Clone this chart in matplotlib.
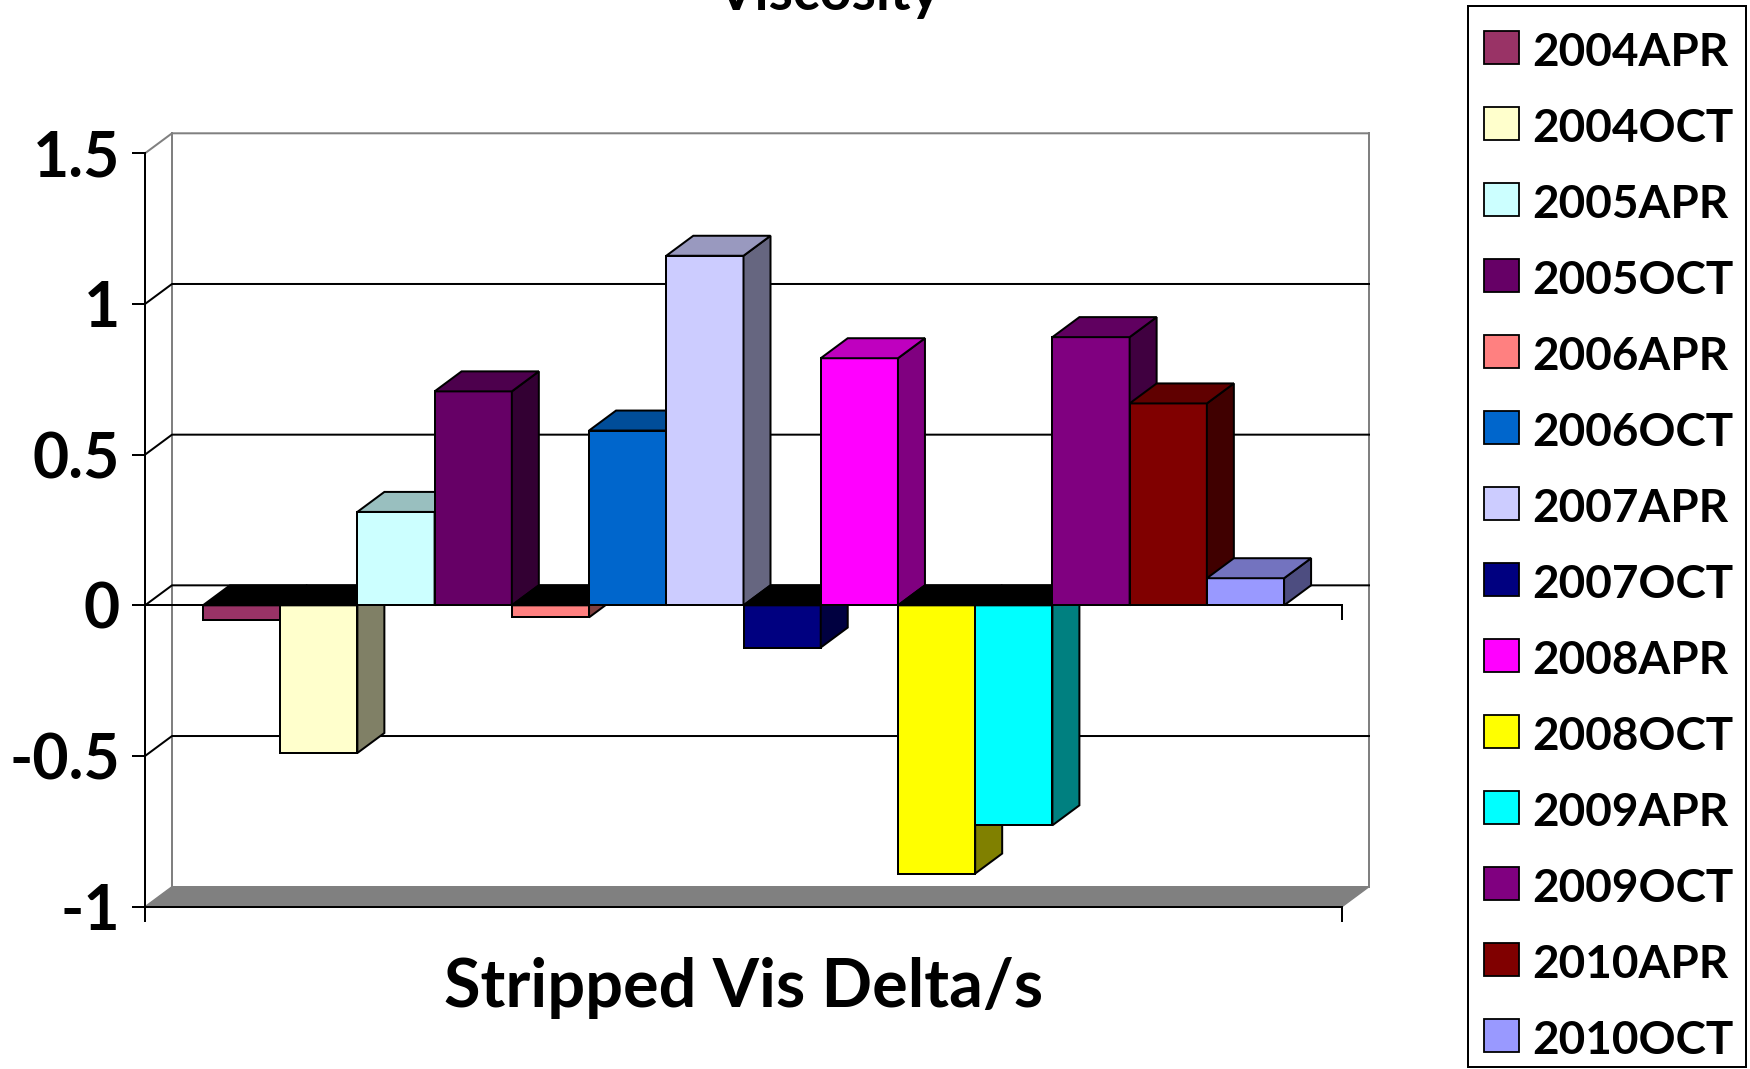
import matplotlib.pyplot as plt
from matplotlib.patches import Polygon, Rectangle
from matplotlib.colors import to_rgb

seasons = ['2004APR', '2004OCT', '2005APR', '2005OCT', '2006APR', '2006OCT', '2007APR',
           '2007OCT', '2008APR', '2008OCT', '2009APR', '2009OCT', '2010APR', '2010OCT']
vis_delta = [-0.05, -0.49, 0.31, 0.71, -0.04, 0.58, 1.16,
             -0.14, 0.82, -0.89, -0.73, 0.89, 0.67, 0.09]
bar_colors = ['#993366', '#FFFFCC', '#CCFFFF', '#660066', '#FF8080', '#0066CC', '#CCCCFF',
              '#000080', '#FF00FF', '#FFFF00', '#00FFFF', '#800080', '#800000', '#9999FF']
y_ticks = [-1, -0.5, 0, 0.5, 1, 1.5]
y_tick_labels = ['-1', '-0.5', '0', '0.5', '1', '1.5']

W, H, DPI = 1750, 1069, 100
plt.rcParams['font.family'] = ['Lato', 'DejaVu Sans']
plt.rcParams['font.weight'] = 'bold'

fig = plt.figure(figsize=(W / DPI, H / DPI), dpi=DPI)

# front face of the plot box, pixels from the top-left corner
x0_px, x1_px = 145, 1342
ytop_px, ybot_px = 153.3, 906.7
ax = fig.add_axes([x0_px / W, 1 - ybot_px / H, (x1_px - x0_px) / W, (ybot_px - ytop_px) / H])
ax.patch.set_visible(False)

n = len(seasons)
gap = 1.5
xmax = n + gap
ymin, ymax = y_ticks[0], y_ticks[-1]
ax.set_xlim(0, xmax)
ax.set_ylim(ymin, ymax)

# depth offset of the fake 3d box, converted to data units
px_x = (x1_px - x0_px) / xmax
px_y = (ybot_px - ytop_px) / (ymax - ymin)
dx = 27 / px_x
dy = 20 / px_y
tick_down = 14 / px_y

lw = 1.44
gray = '#808080'


def line(xs, ys, color='black', z=2):
    ax.plot(xs, ys, color=color, lw=lw, clip_on=False, zorder=z, solid_capstyle='projecting')


# floor at the bottom of the value axis
floor = Polygon([(0, ymin), (xmax, ymin), (xmax + dx, ymin + dy), (dx, ymin + dy)],
                closed=True, facecolor=gray, edgecolor=gray, lw=1, clip_on=False, zorder=1)
ax.add_patch(floor)
line([0, xmax], [ymin, ymin])
line([xmax, xmax], [ymin, ymin - tick_down])

# back wall edges and gridlines with their side-wall diagonals
line([dx, dx], [ymin + dy, ymax + dy], gray, 1)
line([xmax + dx, xmax + dx], [ymin + dy, ymax + dy], gray, 1)
for v in y_ticks[1:]:
    c = gray if v == ymax else 'black'
    line([0, dx, xmax + dx], [v, v + dy, v + dy], c, 1)

# category axis at zero
line([0, xmax], [0, 0])
line([xmax, xmax], [0, -tick_down])


def shade(c, k):
    r, g, b = to_rgb(c)
    return (r * k, g * k, b * k)


bars = ax.bar([gap / 2 + i for i in range(n)], vis_delta, width=1, align='edge',
              color=bar_colors, edgecolor='black', linewidth=lw, clip_on=False)

for i, (rect, c) in enumerate(zip(bars, bar_colors)):
    z = 10 + i
    rect.set_zorder(z)
    xl = rect.get_x()
    xr = xl + rect.get_width()
    yb = min(rect.get_y(), rect.get_y() + rect.get_height())
    yt = max(rect.get_y(), rect.get_y() + rect.get_height())
    top_color = shade(c, 0.75) if rect.get_height() > 0 else 'black'
    top = Polygon([(xl, yt), (xr, yt), (xr + dx, yt + dy), (xl + dx, yt + dy)], closed=True,
                  facecolor=top_color, edgecolor='black', lw=lw, clip_on=False, zorder=z,
                  joinstyle='miter')
    side = Polygon([(xr, yb), (xr + dx, yb + dy), (xr + dx, yt + dy), (xr, yt)], closed=True,
                   facecolor=shade(c, 0.5), edgecolor='black', lw=lw, clip_on=False, zorder=z,
                   joinstyle='miter')
    ax.add_patch(side)
    ax.add_patch(top)

# value axis
for s in ['top', 'right', 'bottom']:
    ax.spines[s].set_visible(False)
ax.spines['left'].set_linewidth(lw)
ax.spines['left'].set_bounds(ymin - tick_down, ymax)
ax.spines['left'].set_zorder(3)
ax.set_xticks([])
ax.set_yticks(y_ticks)
ax.set_yticklabels(y_tick_labels)
ax.tick_params(axis='y', direction='out', length=9.4, width=lw, pad=8.6, labelsize=45)

ax.set_xlabel('Stripped Vis Delta/s', fontsize=48, fontweight='bold')
ax.xaxis.label.set_va('baseline')
ax.xaxis.set_label_coords(0.5, ((H - 1007) - (H - ybot_px)) / (ybot_px - ytop_px))

fig.text(828 / W, 1 - 10 / H, 'Viscosity', ha='center', va='baseline', fontsize=40,
         fontweight='bold')

# legend box on the right
fig.add_artist(Rectangle((1468 / W, 1 - 1067 / H), (1746 - 1468) / W, (1067 - 6) / H,
                         transform=fig.transFigure, fill=False, edgecolor='black', lw=lw))
for i, (name, c) in enumerate(zip(seasons, bar_colors)):
    cy = 47.5 + 76.0 * i
    fig.add_artist(Rectangle((1484 / W, 1 - (cy + 16.5) / H), 35 / W, 33 / H,
                             transform=fig.transFigure, facecolor=c, edgecolor='black',
                             lw=1.3))
    fig.text(1532 / W, 1 - (cy + 18) / H, name, ha='left', va='baseline', fontsize=33,
             fontweight='bold')

fig.savefig('out.png', dpi=DPI)
